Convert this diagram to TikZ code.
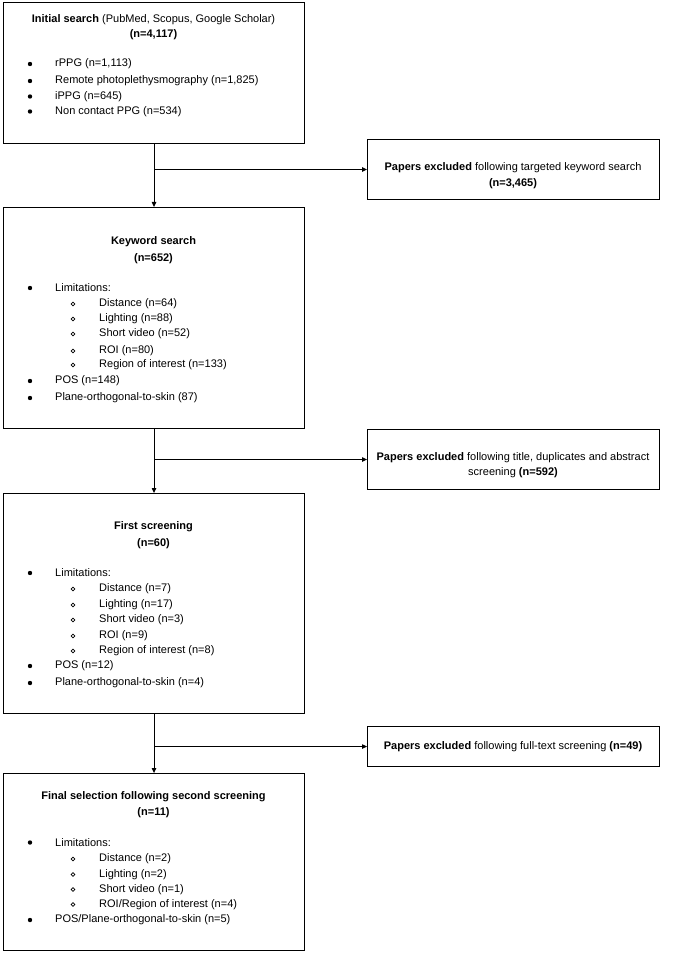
\documentclass[tikz,border=0pt]{standalone}
\usepackage{fontspec}
\setmainfont{Liberation Sans}
\usetikzlibrary{arrows.meta}
\begin{document}
\begin{tikzpicture}[x=1pt,y=-1pt,
  stagebox/.style={draw, line width=1.1pt, inner sep=0pt, anchor=north west},
  txt/.style={inner sep=0pt, font=\fontsize{11}{13}\selectfont},
  ctxt/.style={txt, anchor=center},
  ltxt/.style={txt, anchor=west},
  flow/.style={line width=1.1pt, -{Triangle[length=5pt,width=4.5pt]}},
  dot/.style={fill=black},
  ring/.style={draw=black, line width=0.6pt}
]
\useasboundingbox (0,0) rectangle (681,957);

% main stages
\node[stagebox, minimum width=301pt, minimum height=141pt] (b1) at (3,2) {};
\node[stagebox, minimum width=301pt, minimum height=221pt] (b2) at (3,207) {};
\node[stagebox, minimum width=301pt, minimum height=220pt] (b3) at (3,493) {};
\node[stagebox, minimum width=301pt, minimum height=177pt] (b4) at (3,773) {};

% exclusion boxes
\node[stagebox, minimum width=292pt, minimum height=60pt] (e1) at (367,139) {};
\node[stagebox, minimum width=292pt, minimum height=60pt] (e2) at (367,429) {};
\node[stagebox, minimum width=292pt, minimum height=40pt] (e3) at (367,726) {};

% connectors
\draw[flow] (b1.south) -- (b2.north);
\draw[flow] (b2.south) -- (b3.north);
\draw[flow] (b3.south) -- (b4.north);
\draw[flow] (b1.south |- e1.west) -- (e1.west);
\draw[flow] (b2.south |- e2.west) -- (e2.west);
\draw[flow] (b3.south |- e3.west) -- (e3.west);

% exclusion texts
\node[ctxt] (e1a) at (513,167.5) {\textbf{Papers excluded} following targeted keyword search};
\node[ctxt] (e1b) at (513,183.5) {\textbf{(n=3,465)}};
\node[ctxt] (e2a) at (513,457.5) {\textbf{Papers excluded} following title, duplicates and abstract};
\node[ctxt] (e2b) at (513,473) {screening \textbf{(n=592)}};
\node[ctxt] (e3a) at (513,746.5) {\textbf{Papers excluded} following full-text screening \textbf{(n=49)}};

% stage 1
\node[ctxt] (t1a) at (153.5,20) {\textbf{Initial search} (PubMed, Scopus, Google Scholar)};
\node[ctxt] (t1b) at (153.5,34.5) {\textbf{(n=4,117)}};
\foreach \y/\s [count=\i] in {64/{rPPG (n=1,113)}, 81/{Remote photoplethysmography (n=1,825)}, 96.5/{iPPG (n=645)}, 111.5/{Non contact PPG (n=534)}} {
  \fill[dot] (30,\y) circle (2.2pt);
  \node[ltxt] (s1l\i) at (55,\y) {\s};
}

% stage 2
\node[ctxt] (t2a) at (153.5,242) {\textbf{Keyword search}};
\node[ctxt] (t2b) at (153.5,259) {\textbf{(n=652)}};
\foreach \y/\s [count=\i] in {288/{Limitations:}, 381/{POS (n=148)}, 398/{Plane-orthogonal-to-skin (87)}} {
  \fill[dot] (30,\y) circle (2.2pt);
  \node[ltxt] (s2l\i) at (55,\y) {\s};
}
\foreach \y/\s [count=\i] in {304/{Distance (n=64)}, 319/{Lighting (n=88)}, 334/{Short video (n=52)}, 351/{ROI (n=80)}, 365/{Region of interest (n=133)}} {
  \draw[ring] (73,\y) circle (1.9pt);
  \node[ltxt] (s2s\i) at (99,\y) {\s};
}

% stage 3
\node[ctxt] (t3a) at (153.5,527) {\textbf{First screening}};
\node[ctxt] (t3b) at (153.5,544) {\textbf{(n=60)}};
\foreach \y/\s [count=\i] in {573/{Limitations:}, 666/{POS (n=12)}, 683/{Plane-orthogonal-to-skin (n=4)}} {
  \fill[dot] (30,\y) circle (2.2pt);
  \node[ltxt] (s3l\i) at (55,\y) {\s};
}
\foreach \y/\s [count=\i] in {589/{Distance (n=7)}, 605/{Lighting (n=17)}, 620/{Short video (n=3)}, 636/{ROI (n=9)}, 651/{Region of interest (n=8)}} {
  \draw[ring] (73,\y) circle (1.9pt);
  \node[ltxt] (s3s\i) at (99,\y) {\s};
}

% stage 4
\node[ctxt] (t4a) at (153.5,797) {\textbf{Final selection following second screening}};
\node[ctxt] (t4b) at (153.5,813) {\textbf{(n=11)}};
\foreach \y/\s [count=\i] in {842.5/{Limitations:}, 920/{POS/Plane-orthogonal-to-skin (n=5)}} {
  \fill[dot] (30,\y) circle (2.2pt);
  \node[ltxt] (s4l\i) at (55,\y) {\s};
}
\foreach \y/\s [count=\i] in {859/{Distance (n=2)}, 874.5/{Lighting (n=2)}, 889.5/{Short video (n=1)}, 904.5/{ROI/Region of interest (n=4)}} {
  \draw[ring] (73,\y) circle (1.9pt);
  \node[ltxt] (s4s\i) at (99,\y) {\s};
}
\end{tikzpicture}
\end{document}
